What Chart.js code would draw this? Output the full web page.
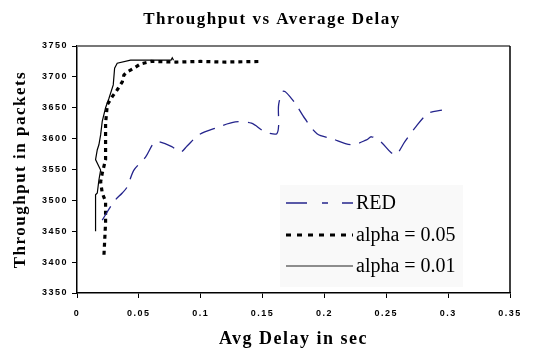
<!DOCTYPE html>
<html>
<head>
<meta charset="utf-8">
<script src="https://cdn.jsdelivr.net/npm/chart.js@4"></script>
<style>
  html, body { margin: 0; padding: 0; background: #fff; }
  #wrap { width: 535px; height: 350px; }
</style>
</head>
<body>
<div id="wrap"><canvas id="myChart"></canvas></div>
<script>
// Data (delay in sec, throughput in packets)
let redDelay = [0.0204, 0.0298, 0.0366, 0.0406, 0.046, 0.0554, 0.062, 0.066, 0.0766, 0.0836, 0.089, 0.0984, 0.112, 0.128, 0.141, 0.150, 0.155, 0.1615, 0.163, 0.163, 0.167, 0.176, 0.184, 0.194, 0.206, 0.222, 0.234, 0.238, 0.245, 0.254, 0.258, 0.265, 0.273, 0.284, 0.295];
let redThroughput = [3468, 3498, 3512, 3522, 3549, 3570, 3593, 3595, 3587, 3578, 3588, 3606, 3617, 3627, 3625, 3613, 3609, 3608, 3622, 3655, 3677, 3658, 3633, 3608, 3600, 3590, 3598, 3603, 3596, 3577, 3574, 3595, 3617, 3641, 3646];

let a05Delay = [0.0218, 0.0231, 0.0231, 0.0204, 0.0191, 0.0204, 0.0231, 0.0231, 0.0231, 0.0245, 0.0285, 0.0325, 0.0366, 0.0379, 0.0406, 0.046, 0.0514, 0.060, 0.080, 0.100, 0.120, 0.149];
let a05Throughput = [3412, 3464, 3498, 3512, 3530, 3544, 3566, 3598, 3625, 3655, 3668, 3679, 3692, 3703, 3708, 3714, 3721, 3725, 3724, 3725, 3724, 3725];

let a01Delay = [0.015, 0.015, 0.0164, 0.0177, 0.0191, 0.0177, 0.015, 0.0164, 0.0177, 0.0191, 0.0204, 0.0231, 0.0258, 0.0293, 0.0304, 0.0325, 0.0433, 0.054, 0.070, 0.076, 0.077, 0.078];
let a01Throughput = [3450, 3509, 3512, 3533, 3549, 3555, 3566, 3582, 3590, 3606, 3628, 3650, 3665, 3687, 3714, 3722, 3727, 3727, 3727, 3727, 3731, 3727];

let xTicks = [0, 0.05, 0.1, 0.15, 0.2, 0.25, 0.3, 0.35];
let yTicks = [3350, 3400, 3450, 3500, 3550, 3600, 3650, 3700, 3750];

let chartTitle = 'Throughput vs Average Delay';

function pairs(xs, ys) {
    return xs.map((x, i) => ({x: x, y: ys[i]}));
}

let titleFamily = '"Liberation Serif", "Times New Roman", serif';

// wide letter spacing like the picture
let spacing = {
    id: 'spacing',
    beforeUpdate(chart) { chart.ctx.letterSpacing = '1.5px'; },
    beforeDraw(chart) { chart.ctx.letterSpacing = '1.5px'; }
};

// title, top/right frame and the legend inside the plot
let frame = {
    id: 'frame',
    afterDraw(chart) {
        let c = chart.ctx, a = chart.chartArea;
        c.save();
        c.fillStyle = '#000';
        c.font = 'bold 17px ' + titleFamily;
        c.textAlign = 'center';
        c.textBaseline = 'middle';
        c.fillText(chartTitle, 272, 20);

        c.lineWidth = 2;
        c.strokeStyle = '#777';
        c.beginPath(); c.moveTo(a.left, a.top); c.lineTo(a.right, a.top); c.stroke();
        c.lineWidth = 1.5;
        c.strokeStyle = '#000';
        c.beginPath(); c.moveTo(a.right, a.top); c.lineTo(a.right, a.bottom); c.stroke();

        c.fillStyle = '#f9f9f9';
        c.fillRect(280, 185, 183, 102);
        c.letterSpacing = '0px';
        c.textAlign = 'left';
        c.font = '20px ' + titleFamily;
        let rows = [203, 235, 266];
        chart.data.datasets.forEach((ds, i) => {
            let y = rows[i];
            c.strokeStyle = ds.legendColor || ds.borderColor;
            c.lineWidth = ds.borderWidth;
            c.setLineDash(ds.legendDash || ds.borderDash || []);
            c.beginPath(); c.moveTo(286, y); c.lineTo(353, y); c.stroke();
            c.setLineDash([]);
            c.fillStyle = '#000';
            c.fillText(ds.label, 356, y + 1);
        });
        c.restore();
    }
};

let tickFont = {family: '"Liberation Sans", Arial, sans-serif', size: 9, weight: 'bold'};

let ctx = document.getElementById('myChart');
let myChart = new Chart(ctx, {
    type: 'scatter',
    data: {
        datasets: [{
            label: 'RED',
            data: pairs(redDelay, redThroughput),
            showLine: true,
            borderColor: '#24248c',
            borderWidth: 1.3,
            borderDash: [16, 9],
            legendDash: [21, 15, 6, 14],
            tension: 0.3,
            pointRadius: 0
        }, {
            label: 'alpha = 0.05',
            data: pairs(a05Delay, a05Throughput),
            showLine: true,
            borderColor: '#000',
            borderWidth: 3.2,
            borderDash: [4, 4],
            legendDash: [5, 6],
            pointRadius: 0
        }, {
            label: 'alpha = 0.01',
            data: pairs(a01Delay, a01Throughput),
            showLine: true,
            borderColor: '#000',
            legendColor: '#222',
            borderWidth: 1.2,
            pointRadius: 0
        }]
    },
    options: {
        responsive: true,
        maintainAspectRatio: false,
        animation: false,
        layout: {padding: {left: 0, right: 25, top: 46, bottom: 0}},
        plugins: {
            legend: {display: false},
            tooltip: {enabled: false},
            title: {display: false}
        },
        scales: {
            x: {
                type: 'linear',
                min: 0,
                max: 0.35,
                afterBuildTicks: s => { s.ticks = xTicks.map(v => ({value: v})); },
                afterFit: s => { s.height = 57; },
                grid: {display: true, drawOnChartArea: false, drawTicks: true, tickLength: 5, color: '#000'},
                border: {display: true, color: '#000', width: 1.5},
                ticks: {
                    color: '#000',
                    font: tickFont,
                    padding: 10,
                    maxRotation: 0,
                    callback: v => String(+v.toFixed(2))
                },
                title: {
                    display: true,
                    text: 'Avg Delay in sec',
                    color: '#000',
                    font: {family: titleFamily, size: 18, weight: 'bold'},
                    padding: {top: 0, bottom: 0}
                }
            },
            y: {
                type: 'linear',
                min: 3350,
                max: 3750,
                afterBuildTicks: s => { s.ticks = yTicks.map(v => ({value: v})); },
                afterFit: s => { s.width = 77; },
                grid: {display: true, drawOnChartArea: false, drawTicks: true, tickLength: 5, color: '#000'},
                border: {display: true, color: '#000', width: 1.5},
                ticks: {
                    color: '#000',
                    font: tickFont,
                    padding: 4,
                    callback: v => String(v)
                },
                title: {
                    display: true,
                    text: 'Throughput in packets',
                    color: '#000',
                    font: {family: titleFamily, size: 17, weight: 'bold'},
                    padding: {top: 10, bottom: 0}
                }
            }
        }
    },
    plugins: [spacing, frame]
});
</script>
</body>
</html>
